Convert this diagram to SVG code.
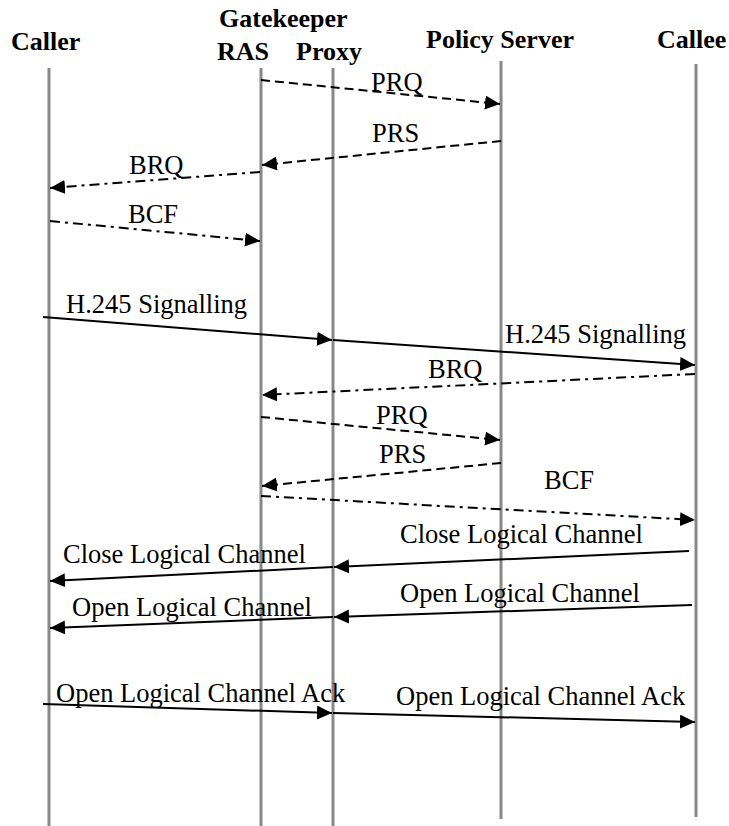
<svg xmlns="http://www.w3.org/2000/svg" width="729" height="826" viewBox="0 0 729 826">
<style>
.hdr{font-family:"Liberation Serif","Times New Roman",serif;font-weight:bold;font-size:26px;fill:#000}
.lbl{font-family:"Liberation Serif","Times New Roman",serif;font-size:26.5px;fill:#000}
.life{stroke:#888;stroke-width:3;fill:none}
.msg{stroke:#000;stroke-width:2;fill:none;marker-end:url(#ah)}
.dash{stroke-dasharray:9,5}
.dashdot{stroke-dasharray:10,5,3,5}
</style>
<defs>
<marker id="ah" markerUnits="userSpaceOnUse" markerWidth="16" markerHeight="16" refX="15" refY="7" orient="auto">
<path d="M0,0 L15,7 L0,14 z" fill="#000"/>
</marker>
</defs>
<rect width="729" height="826" fill="#fff"/>
<g id="caller">
<text class="hdr" x="11" y="50">Caller</text>
<line class="life" x1="49" y1="68" x2="49" y2="826"/>
</g>
<g id="gatekeeper-ras">
<text class="hdr" x="219" y="27">Gatekeeper</text>
<text class="hdr" x="217" y="60">RAS</text>
<line class="life" x1="261" y1="68" x2="261" y2="826"/>
</g>
<g id="gatekeeper-proxy">
<text class="hdr" x="296" y="60">Proxy</text>
<line class="life" x1="333" y1="68" x2="333" y2="826"/>
</g>
<g id="policy-server">
<text class="hdr" x="426" y="48">Policy Server</text>
<line class="life" x1="501" y1="61" x2="501" y2="819"/>
</g>
<g id="callee">
<text class="hdr" x="657" y="48">Callee</text>
<line class="life" x1="696" y1="64" x2="696" y2="817"/>
</g>
<g id="connectors">
<line class="msg dash" x1="261" y1="80" x2="500" y2="104"/>
<text class="lbl" x="371" y="91">PRQ</text>
<line class="msg dash" x1="501" y1="141" x2="262" y2="165"/>
<text class="lbl" x="372" y="142">PRS</text>
<line class="msg dashdot" x1="260" y1="172" x2="50" y2="188"/>
<text class="lbl" x="129" y="174">BRQ</text>
<line class="msg dashdot" x1="50" y1="221" x2="260" y2="241"/>
<text class="lbl" x="128" y="223">BCF</text>
<line class="msg" x1="43" y1="317" x2="332" y2="340"/>
<text class="lbl" x="66" y="313">H.245 Signalling</text>
<line class="msg" x1="333" y1="340" x2="695" y2="365"/>
<text class="lbl" x="505" y="343">H.245 Signalling</text>
<line class="msg dashdot" x1="695" y1="374" x2="262" y2="395"/>
<text class="lbl" x="428" y="378">BRQ</text>
<line class="msg dash" x1="261" y1="417" x2="500" y2="440"/>
<text class="lbl" x="376" y="424">PRQ</text>
<line class="msg dash" x1="501" y1="463" x2="262" y2="486"/>
<text class="lbl" x="379" y="463">PRS</text>
<line class="msg dashdot" x1="261" y1="496" x2="695" y2="520"/>
<text class="lbl" x="544" y="489">BCF</text>
<line class="msg" x1="689" y1="551" x2="334" y2="567"/>
<text class="lbl" x="400" y="543">Close Logical Channel</text>
<line class="msg" x1="333" y1="567" x2="50" y2="581"/>
<text class="lbl" x="63" y="563">Close Logical Channel</text>
<line class="msg" x1="692" y1="605" x2="334" y2="617"/>
<text class="lbl" x="400" y="602">Open Logical Channel</text>
<line class="msg" x1="333" y1="617" x2="50" y2="628"/>
<text class="lbl" x="72" y="616">Open Logical Channel</text>
<line class="msg" x1="43" y1="704" x2="332" y2="713"/>
<text class="lbl" x="56" y="702">Open Logical Channel Ack</text>
<line class="msg" x1="333" y1="713" x2="695" y2="722"/>
<text class="lbl" x="396" y="705">Open Logical Channel Ack</text>
</g>
</svg>
